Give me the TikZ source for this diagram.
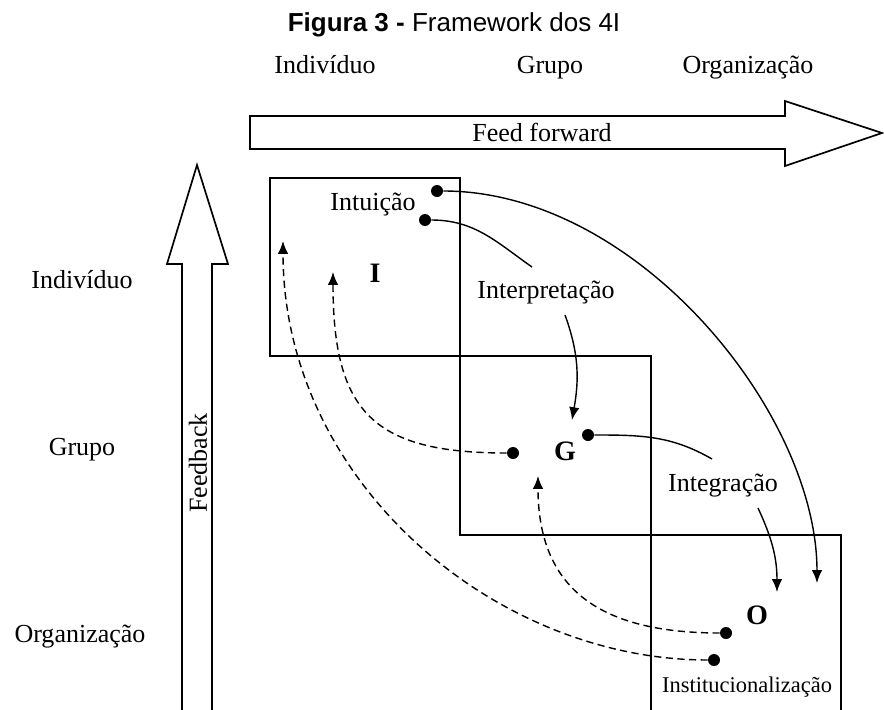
\documentclass[tikz,border=0pt]{standalone}
\usepackage{fontspec}
\setmainfont{Liberation Serif}
\newfontfamily\titlefont{Liberation Sans}
\usetikzlibrary{arrows.meta}

\begin{document}
\begin{tikzpicture}[x=0.025cm,y=-0.025cm,>={Latex[length=3.2mm,width=2.6mm]},font=\fontsize{18.5}{22}\selectfont]
\tikzstyle{lbl}=[inner sep=1pt]
\tikzstyle{lvl}=[inner sep=1pt, font=\fontsize{20}{24}\selectfont\bfseries]
\tikzstyle{dot}=[circle, fill=black, inner sep=0pt, minimum size=3mm]
\tikzstyle{quad}=[draw, line width=1.2pt]
\tikzstyle{big}=[draw, line width=1.2pt, line join=miter]
\tikzstyle{flow}=[->, line width=1pt]
\tikzstyle{back}=[->, line width=1pt, dash pattern=on 1.8mm off 1.1mm]

\useasboundingbox (0,0) rectangle (884,710);

\node[lbl, font=\titlefont\fontsize{18.5}{22}\selectfont] (title) at (454,25) {\textbf{Figura 3 -} Framework dos 4I};

% niveis
\node[lbl, anchor=base] (topI) at (325,73) {Indivíduo};
\node[lbl, anchor=base] (topG) at (550,73) {Grupo};
\node[lbl, anchor=base] (topO) at (748,73) {Organização};
\node[lbl] (leftI) at (82,280) {Indivíduo};
\node[lbl] (leftG) at (82,450) {Grupo};
\node[lbl] (leftO) at (80,637) {Organização};

% setas grandes
\draw[big] (250,116) -- (785,116) -- (785,101) -- (882,133) -- (785,166) -- (785,149) -- (250,149) -- cycle;
\node[lbl] (ff) at (542,132) {Feed forward};
\draw[big] (182,720) -- (182,264) -- (167,264) -- (197,165) -- (228,264) -- (212,264) -- (212,720);
\node[lbl, rotate=90] (fb) at (198,463) {Feedback};

% quadros
\draw[quad] (270,178) rectangle (460,356);
\draw[quad] (460,356) rectangle (651,535);
\draw[quad] (651,720) -- (651,535) -- (841,535) -- (841,720);

\node[lbl] (intu) at (373,205) {Intuição};
\node[lvl] (I) at (375,273) {I};
\node[lbl] (interp) at (546,293) {Interpretação};
\node[lvl] (G) at (565,451) {G};
\node[lbl] (integ) at (723,486) {Integração};
\node[lvl] (O) at (757,615) {O};
\node[lbl, font=\fontsize{16}{19}\selectfont] (inst) at (747,687) {Institucionalização};

\node[dot] (d1) at (437,191) {};
\node[dot] (d2) at (425,220) {};
\node[dot] (d3) at (588,435) {};
\node[dot] (d4) at (513,453) {};
\node[dot] (d5) at (726,633) {};
\node[dot] (d6) at (714,660) {};

\coordinate (a1) at (532,267);
\coordinate (a2) at (565,315);
\coordinate (tG) at (572,420);
\coordinate (c1) at (712,459);
\coordinate (c2) at (758,508);
\coordinate (tO1) at (777,592);
\coordinate (tO2) at (817,583);
\coordinate (tI1) at (283,241);
\coordinate (tI2) at (333,272);
\coordinate (tG2) at (538,476);

% feed forward
\draw[line width=1pt] (d2) to[out=0,in=145] (a1);
\draw[flow] (a2) to[out=-70,in=80] (tG);
\draw[line width=1pt] (d3) to[out=0,in=150] (c1);
\draw[flow] (c2) to[out=-65,in=90] (tO1);
\draw[flow] (d1) .. controls +(200,0) and +(0,-170) .. (tO2);

% feedback
\draw[back] (d4) .. controls +(-140,0) and +(0,140) .. (tI2);
\draw[back] (d5) .. controls +(-130,0) and +(0,110) .. (tG2);
\draw[back] (d6) .. controls +(-220,0) and +(0,240) .. (tI1);
\end{tikzpicture}
\end{document}
